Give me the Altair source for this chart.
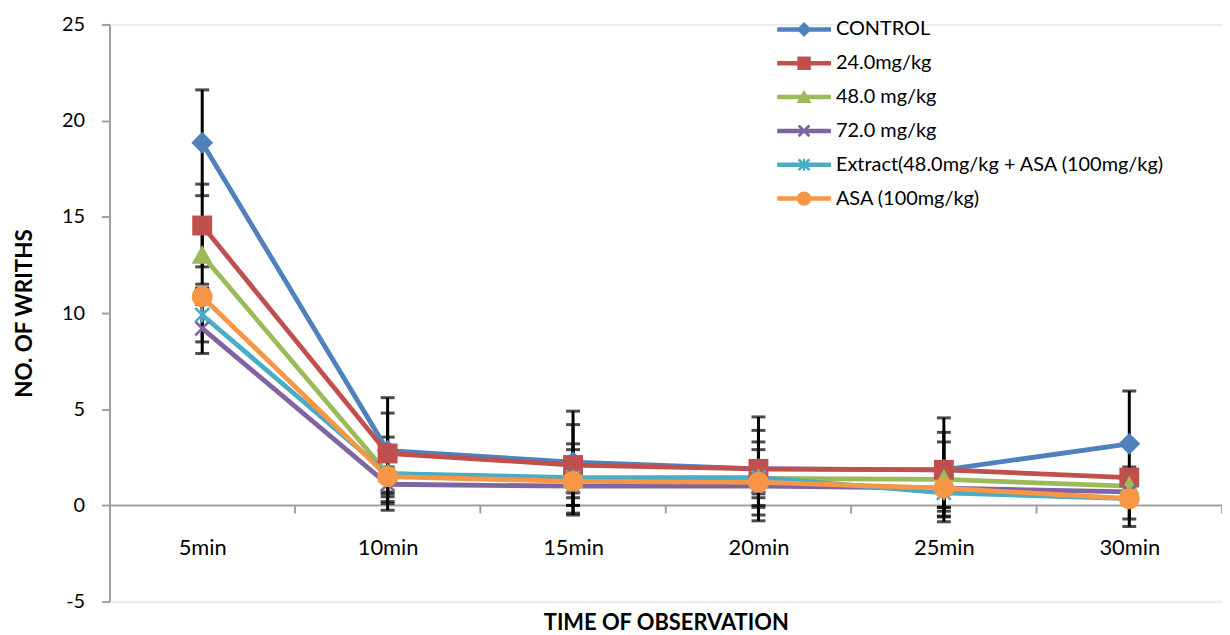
import json
import altair as alt
import pandas as pd

# ---------------- data ----------------
times = ["5min", "10min", "15min", "20min", "25min", "30min"]
series = ["CONTROL", "24.0mg/kg", "48.0 mg/kg", "72.0 mg/kg",
          " Extract(48.0mg/kg + ASA (100mg/kg)", "ASA (100mg/kg)"]

control_mean = [18.85, 2.85, 2.25, 1.9, 1.85, 3.2]
mg24_mean = [14.55, 2.7, 2.1, 1.9, 1.85, 1.45]
mg48_mean = [13.0, 1.65, 1.35, 1.4, 1.35, 1.0]
mg72_mean = [9.2, 1.1, 1.0, 1.0, 0.9, 0.7]
extract_mean = [9.9, 1.65, 1.45, 1.45, 0.65, 0.35]
asa_mean = [10.85, 1.5, 1.25, 1.2, 0.9, 0.35]

control_err = [2.75, 2.75, 2.65, 2.7, 2.7, 2.75]
mg24_err = [2.15, 2.1, 2.1, 2.0, 1.95, 0.55]
mg48_err = [1.5, 1.9, 1.85, 1.9, 1.95, 0.5]
mg72_err = [1.3, 0.9, 0.6, 0.6, 1.2, 0.4]
extract_err = [1.4, 1.2, 1.45, 1.45, 1.2, 1.05]
asa_err = [0.4, 0.8, 0.6, 0.6, 1.0, 1.45]

y_ticks = [-5, 0, 5, 10, 15, 20, 25]

colors = ["#4F81BD", "#C0504D", "#9BBB59", "#8064A2", "#4BACC6", "#F79646"]

all_means = [control_mean, mg24_mean, mg48_mean, mg72_mean, extract_mean, asa_mean]
all_errs = [control_err, mg24_err, mg48_err, mg72_err, extract_err, asa_err]

rows = []
for s, means, errs in zip(series, all_means, all_errs):
    for i, (m, e) in enumerate(zip(means, errs)):
        rows.append({"series": s, "idx": i, "time": times[i],
                     "mean": m, "lo": m - e, "hi": m + e})
df = pd.DataFrame(rows)

bounds = pd.DataFrame({"b": [i + 0.5 for i in range(len(times))]})
zero_df = pd.DataFrame({"x0": [-0.5], "x1": [len(times) - 0.5], "y0": [0]})

# ---------------- marker shapes ----------------
def x_path(a, t):
    d = t / 2 ** 0.5
    p1 = f"M{-a+d},{-a-d}L{a+d},{a-d}L{a-d},{a+d}L{-a-d},{-a+d}Z"
    p2 = f"M{a+d},{-a+d}L{-a+d},{a+d}L{-a-d},{a-d}L{a-d},{-a-d}Z"
    return p1 + p2

def vbar(t, b):
    return f"M{-t},{-b}L{t},{-b}L{t},{b}L{-t},{b}Z"

def diamond(s):
    return f"M0,{-s}L{s},0L0,{s}L{-s},0Z"

def square(s):
    return f"M{-s},{-s}L{s},{-s}L{s},{s}L{-s},{s}Z"

def triangle(s):
    return f"M0,{-s}L{s},{0.8*s}L{-s},{0.8*s}Z"

def circle(s):
    return f"M{-s},0A{s},{s} 0 1,1 {s},0A{s},{s} 0 1,1 {-s},0Z"

point_shapes = [diamond(1.1), square(1.0), triangle(1.05),
                x_path(0.7, 0.13), x_path(0.7, 0.13) + vbar(0.12, 0.75), circle(1.05)]

line_seg = "M-1.8,-0.15L1.8,-0.15L1.8,0.15L-1.8,0.15Z"
legend_shapes = [line_seg + diamond(0.5), line_seg + square(0.45), line_seg + triangle(0.5),
                 line_seg + x_path(0.36, 0.09), line_seg + x_path(0.36, 0.09) + vbar(0.08, 0.4),
                 line_seg + circle(0.48)]

FONT = "Lato"

x_label_expr = json.dumps(times) + "[datum.value]"

x_scale = alt.Scale(domain=[-0.5, len(times) - 0.5], nice=False, zero=False)
y_scale = alt.Scale(domain=[-5, 25], nice=False, zero=False)
color_scale = alt.Scale(domain=series, range=colors)

x_axis = alt.Axis(values=list(range(len(times))), labelExpr=x_label_expr,
                  domain=False, ticks=False, tickSize=0, grid=False,
                  offset=-64, labelPadding=0, labelFontSize=22, labelColor="black",
                  labelFont=FONT, title="TIME OF OBSERVATION", titleFont=FONT,
                  titleFontSize=22, titleFontWeight="bold", titleColor="black",
                  titlePadding=54)
y_axis = alt.Axis(values=y_ticks, grid=False, domainColor="#A0A0A0", domainWidth=2,
                  tickColor="#A0A0A0", tickWidth=2, tickSize=8, labelPadding=17,
                  labelExpr="datum.value < 0 ? '-' + abs(datum.value) : '' + datum.value",
                  labelFontSize=20, labelColor="black", labelFont=FONT,
                  title="NO. OF WRITHS", titleFont=FONT, titleFontSize=22.5,
                  titleFontWeight="bold", titleColor="black", titlePadding=25)

base = alt.Chart(df)
X = alt.X("idx:Q", scale=x_scale, axis=x_axis)
Y = alt.Y("mean:Q", scale=y_scale, axis=y_axis)

zero_line = alt.Chart(zero_df).mark_rule(color="#A0A0A0", strokeWidth=2).encode(
    x=alt.X("x0:Q", scale=x_scale, axis=x_axis), x2="x1:Q",
    y=alt.Y("y0:Q", scale=y_scale, axis=y_axis))

bound_ticks = alt.Chart(bounds).mark_rule(color="#A0A0A0", strokeWidth=2).encode(
    x=alt.X("b:Q", scale=x_scale, axis=x_axis),
    y=alt.datum(0, scale=y_scale), y2=alt.datum(-0.42))

err_bar = base.mark_rule(color="black", strokeWidth=3).encode(
    x=X, y=alt.Y("lo:Q", scale=y_scale, axis=y_axis), y2="hi:Q")
cap_lo = base.mark_tick(color="black", orient="horizontal", size=14, thickness=3).encode(
    x=X, y=alt.Y("lo:Q", scale=y_scale, axis=y_axis))
cap_hi = base.mark_tick(color="black", orient="horizontal", size=14, thickness=3).encode(
    x=X, y=alt.Y("hi:Q", scale=y_scale, axis=y_axis))

legend_def = alt.Legend(title=None, orient="none", legendX=683, legendY=-10,
                        symbolSize=900, symbolStrokeWidth=0, symbolOpacity=1,
                        labelFont=FONT, labelFontSize=20, labelColor="black",
                        labelExpr="replace(datum.label, ' Extract', '\u00a0Extract')",
                        labelOffset=17, rowPadding=9, padding=0, labelLimit=600)

# invisible layer that carries the legend (line + marker symbols)
legend_layer = base.mark_point(filled=True, opacity=0, strokeWidth=0).encode(
    x=X, y=Y,
    color=alt.Color("series:N", scale=color_scale, legend=legend_def),
    shape=alt.Shape("series:N", scale=alt.Scale(domain=series, range=legend_shapes),
                    legend=legend_def))

line_layers = []
point_layers = []
for s, c, shp in zip(series, colors, point_shapes):
    sub = base.transform_filter(alt.datum.series == s)
    line_layers.append(sub.mark_line(strokeWidth=4.8, color=c).encode(x=X, y=Y, order="idx:Q"))
    point_layers.append(sub.mark_point(shape=shp, size=400, filled=True, opacity=1,
                                       strokeWidth=0, color=c).encode(x=X, y=Y))

chart = alt.layer(legend_layer, zero_line, bound_ticks, err_bar, cap_lo, cap_hi,
                  *line_layers, *point_layers).properties(
    width=1118, height=580,
    autosize=alt.AutoSizeParams(type="none"),
    padding={"left": 102, "top": 15, "right": 0, "bottom": 31},
).configure_view(stroke=None).configure(font=FONT)

chart.save("out.html", embed_options={"renderer": "svg", "actions": False})
